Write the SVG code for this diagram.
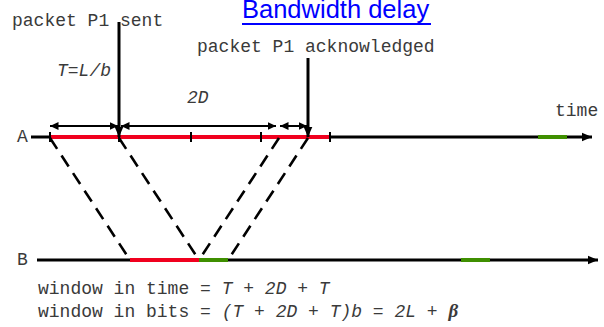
<svg xmlns="http://www.w3.org/2000/svg" width="604" height="327" viewBox="0 0 604 327">
<style>
.mono{font-family:"Liberation Mono","Courier New",monospace;font-size:18px;fill:#3a3a3a}
.it{font-style:italic}
.ax{stroke:#000;stroke-width:3;fill:none}
.red{stroke:#f0001e;stroke-width:4}
.grn{stroke:#3f8f00;stroke-width:4}
.tick{stroke:#000;stroke-width:2}
.dash{stroke:#000;stroke-width:2.6;stroke-dasharray:13 8;fill:none}
.dim{stroke:#000;stroke-width:2;fill:none}
</style>
<defs>
<marker id="ah" markerUnits="userSpaceOnUse" markerWidth="11" markerHeight="11" refX="10" refY="5.5" orient="auto-start-reverse">
<path d="M0,1.2 L10,5.5 L0,9.8 Z" fill="#000"/>
</marker>
<marker id="ahs" markerUnits="userSpaceOnUse" markerWidth="10" markerHeight="10" refX="8.5" refY="5" orient="auto-start-reverse">
<path d="M0,1 L8.5,5 L0,9 Z" fill="#000"/>
</marker>
</defs>
<g id="title">
<text x="242" y="18" font-family="'Liberation Sans',Arial,sans-serif" font-size="25.5" fill="#0000ff">Bandwidth delay</text>
<line x1="242" y1="24" x2="431" y2="24" stroke="#0000ff" stroke-width="2.2"/>
</g>
<g id="labels">
<text class="mono" x="12" y="26">packet P1 sent</text>
<text class="mono" x="197" y="52">packet P1 acknowledged</text>
<text class="mono it" x="57" y="76">T=L/b</text>
<text class="mono it" x="187" y="103">2D</text>
<text class="mono" x="555" y="116">time</text>
<text class="mono" x="17" y="142" font-size="15">A</text>
<text class="mono" x="17" y="265" font-size="15">B</text>
</g>
<g id="timelineA">
<line class="ax" x1="31" y1="137" x2="592" y2="137" marker-end="url(#ah)"/>
<line class="red" x1="50" y1="137" x2="331" y2="137"/>
<line class="grn" x1="538" y1="137" x2="567" y2="137"/>
<line class="tick" x1="50" y1="132" x2="50" y2="142"/>
<line class="tick" x1="119" y1="132" x2="119" y2="142"/>
<line class="tick" x1="191" y1="132" x2="191" y2="142"/>
<line class="tick" x1="261" y1="132" x2="261" y2="142"/>
<line class="tick" x1="330" y1="132" x2="330" y2="142"/>
</g>
<g id="timelineB">
<line class="ax" x1="37" y1="260" x2="598" y2="260" marker-end="url(#ah)"/>
<line class="red" x1="130" y1="260" x2="199" y2="260"/>
<line class="grn" x1="199" y1="260" x2="228" y2="260"/>
<line class="grn" x1="461" y1="260" x2="490" y2="260"/>
</g>
<g id="connectors">
<line class="ax" x1="119" y1="22" x2="119" y2="137" marker-end="url(#ah)"/>
<line class="ax" x1="308" y1="58" x2="308" y2="137" marker-end="url(#ah)"/>
<line class="dim" x1="50" y1="126" x2="118" y2="126" marker-start="url(#ahs)" marker-end="url(#ahs)"/>
<line class="dim" x1="121" y1="126" x2="276" y2="126" marker-start="url(#ahs)" marker-end="url(#ahs)"/>
<line class="dim" x1="280" y1="126" x2="307" y2="126" marker-start="url(#ahs)" marker-end="url(#ahs)"/>
<line class="dash" x1="50" y1="138" x2="130" y2="260"/>
<line class="dash" x1="119" y1="138" x2="199" y2="260"/>
<line class="dash" x1="279" y1="138" x2="199" y2="260"/>
<line class="dash" x1="308" y1="138" x2="228" y2="260"/>
</g>
<g id="formulas">
<text class="mono" x="38" y="294">window in time = <tspan class="it">T + 2D + T</tspan></text>
<text class="mono" x="38" y="317">window in bits = <tspan class="it">(T + 2D + T)b = 2L + </tspan><tspan font-family="'Liberation Serif','DejaVu Serif',serif" font-style="italic" font-weight="bold" font-size="19">β</tspan></text>
</g>
</svg>
